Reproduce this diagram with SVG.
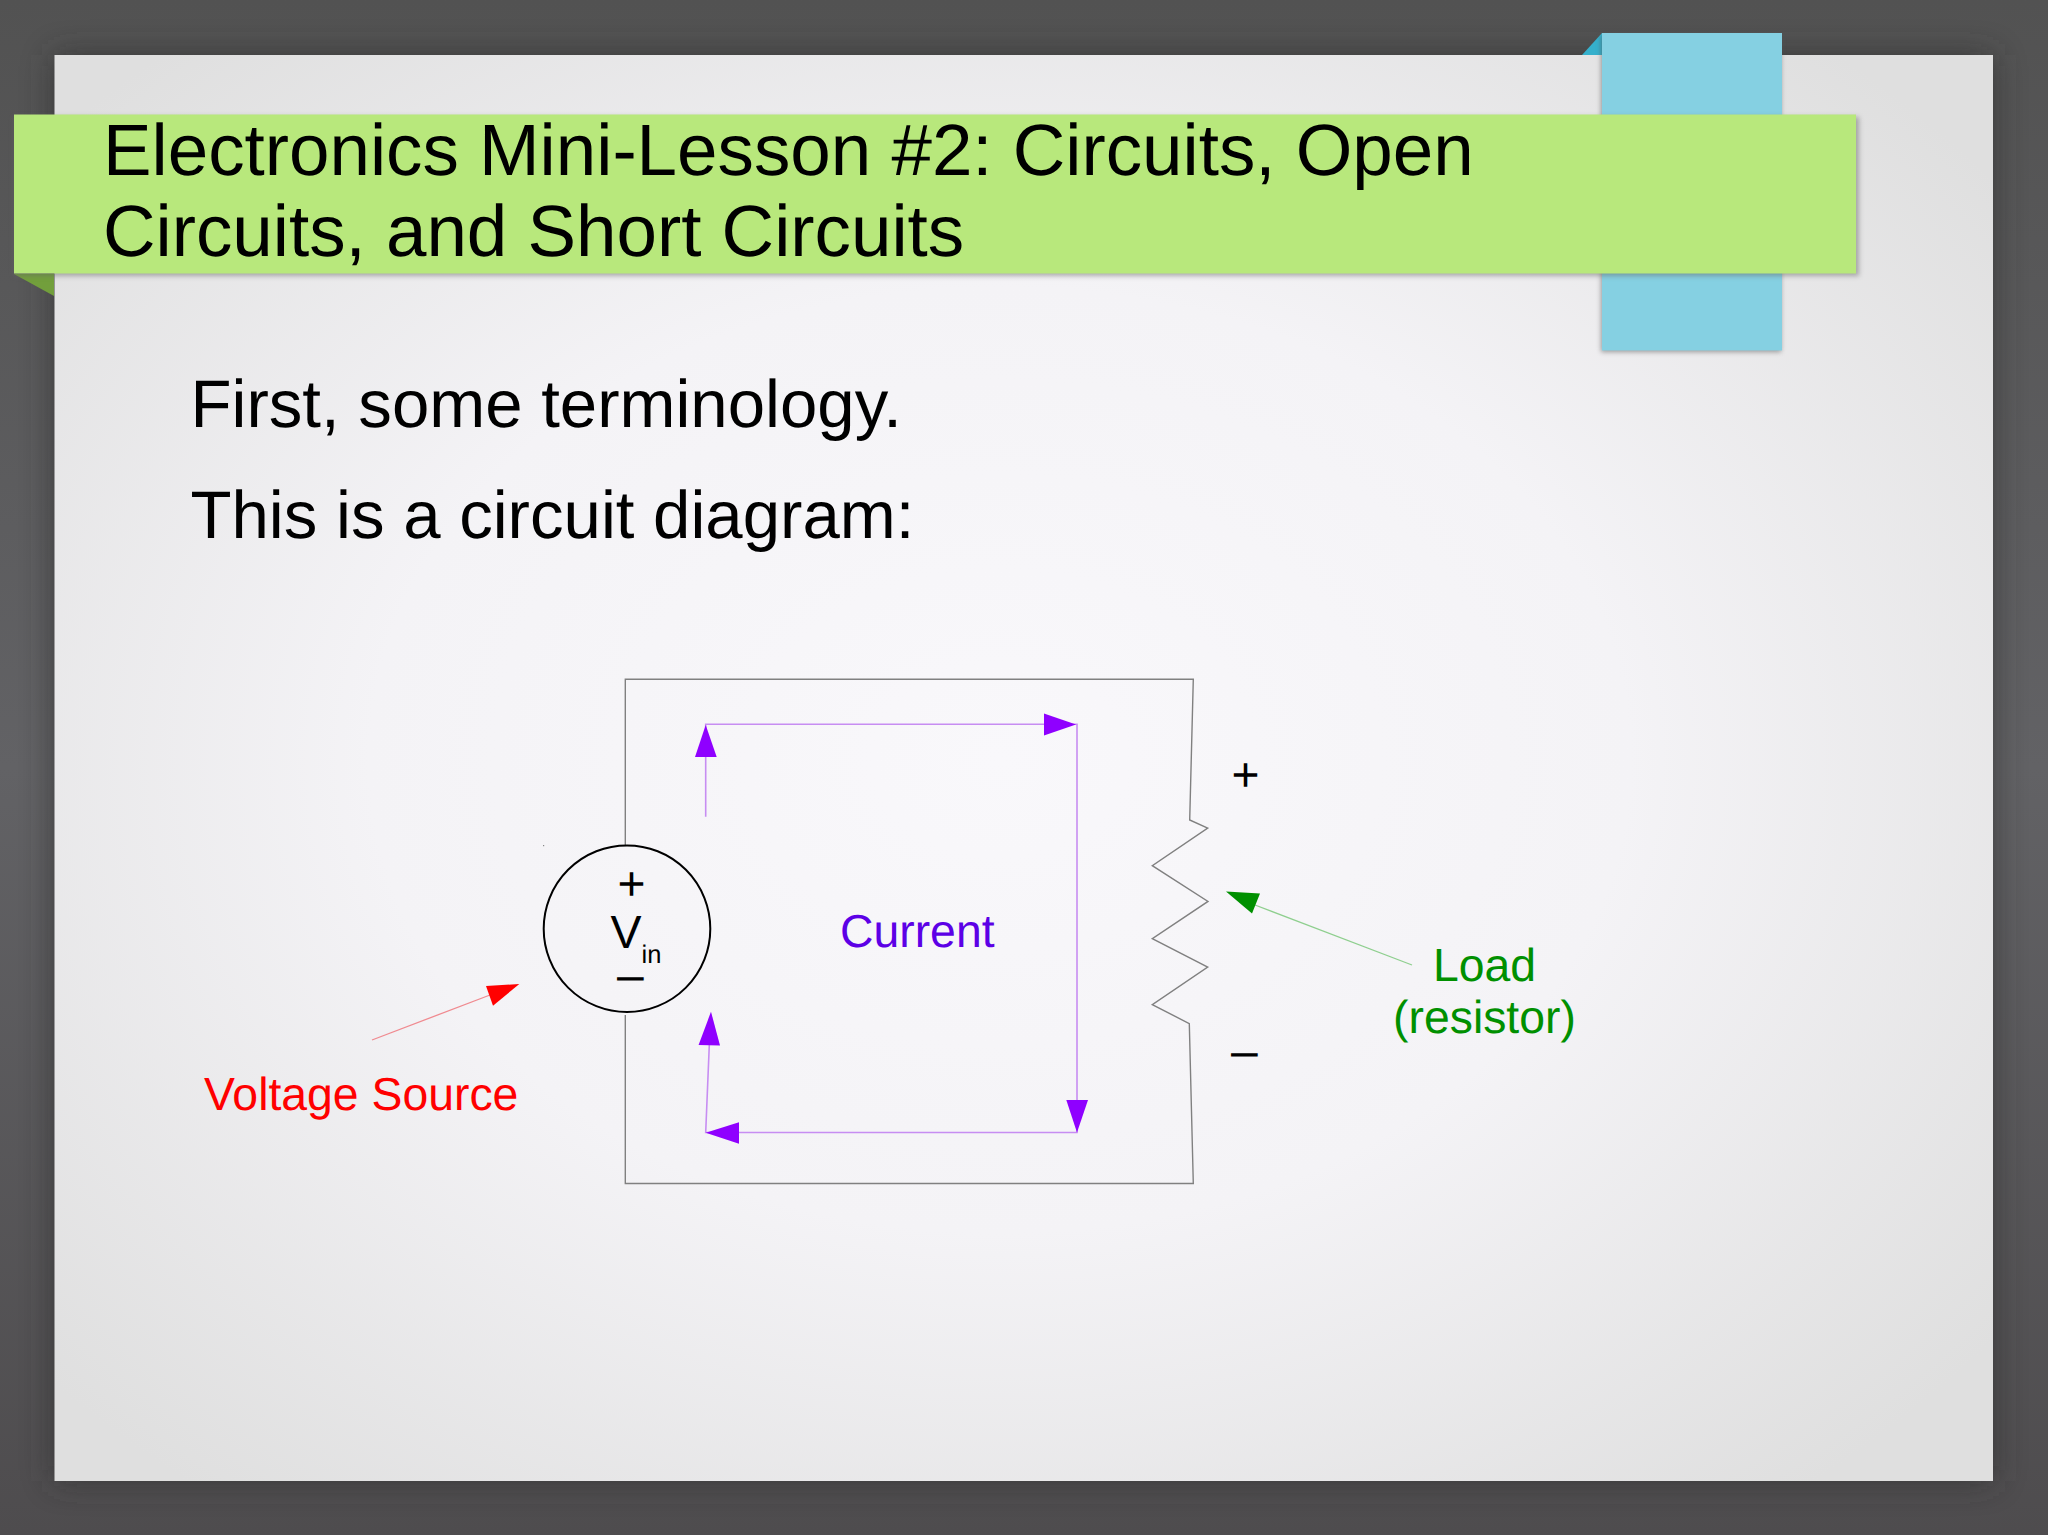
<svg xmlns="http://www.w3.org/2000/svg" width="2048" height="1535" viewBox="0 0 2048 1535">
<style>
text{font-family:"Liberation Sans",Arial,sans-serif;text-rendering:geometricPrecision}
.title{font-size:72.75px;fill:#000}
.body{font-size:67.15px;fill:#000}
.lbl{font-size:46.35px}
.sym{font-size:48px;fill:#000}
.wire{fill:none;stroke:#808080;stroke-width:1.4}
.cur{fill:none;stroke:#c78df2;stroke-width:1.6}
.head{fill:#8f00ff}
</style>
<defs>
<linearGradient id="bg" x1="0" y1="0" x2="0" y2="1"><stop offset="0" stop-color="#525252"/><stop offset=".5" stop-color="#626265"/><stop offset="1" stop-color="#4e4c4e"/></linearGradient>
<radialGradient id="panel" gradientUnits="userSpaceOnUse" cx="1000" cy="760" r="1260" gradientTransform="translate(0 190) scale(1 .75)"><stop offset="0" stop-color="#f9f8fb"/><stop offset=".5" stop-color="#f4f3f6"/><stop offset="1" stop-color="#dfdfdf"/></radialGradient>
<filter id="sh" x="-10%" y="-10%" width="120%" height="120%"><feGaussianBlur stdDeviation="16"/></filter>
<filter id="sm" x="-5%" y="-10%" width="110%" height="120%"><feGaussianBlur stdDeviation="2.500"/></filter>
</defs>
<g id="background">
<rect width="2048" height="1535" fill="url(#bg)"/>
<rect x="54" y="55" width="1939" height="1426" fill="#2e2e2e" opacity=".7" filter="url(#sh)"/>
<rect x="54.5" y="55" width="1938.500" height="1426" fill="url(#panel)"/>
</g>
<g id="ribbons">
<polygon points="1602,33 1582,55 1602,55" fill="#35b0cc"/>
<rect x="1601" y="36" width="180" height="316" fill="#555" opacity=".55" filter="url(#sm)"/>
<rect x="1602" y="33" width="180" height="317.500" fill="#85d0e2"/>
<polygon points="14,274 54,296 54,274" fill="#729f3c"/>
<rect x="14" y="117" width="1845" height="159" fill="#666" opacity=".5" filter="url(#sm)"/>
<rect x="14" y="114.500" width="1842" height="159" fill="#b8e87c"/>
</g>
<g id="title">
<text class="title" x="103" y="175">Electronics Mini-Lesson #2: Circuits, Open</text>
<text class="title" x="103" y="256">Circuits, and Short Circuits</text>
</g>
<g id="body">
<text class="body" x="190.500" y="427">First, some terminology.</text>
<text class="body" x="190.500" y="538">This is a circuit diagram:</text>
</g>
<g id="connectors">
<path class="wire" d="M625.300 845V679.300H1193.300L1189.700 820L1207.700 828.200L1152.300 865.700L1208 901.400L1152.300 938.600L1207.700 967.100L1152.300 1004.600L1189.300 1023.600L1193.300 1183.500H625.300V1015"/>
<path class="cur" d="M705.700 816.700V724.300H1077V1132.500H705.700L709.300 1045"/>
<polygon class="head" points="705.700,725 695,757 716.700,757"/>
<polygon class="head" points="1076,724.600 1044,713.600 1044,735.400"/>
<polygon class="head" points="1077,1132.500 1066.300,1100 1088,1100"/>
<polygon class="head" points="705.700,1132.700 739,1122.300 739,1143.700"/>
<polygon class="head" points="711,1011.700 698.600,1045 720,1045.600"/>
<line x1="372" y1="1040" x2="490" y2="995" stroke="#f08a90" stroke-width="1.300"/>
<polygon points="519.300,984 486,986 493,1005.700" fill="#ff0000"/>
<line x1="1412" y1="965" x2="1255" y2="905" stroke="#8fcf8f" stroke-width="1.300"/>
<polygon points="1226,891.400 1260,893.600 1252,913.600" fill="#009000"/>
</g>
<g id="voltage-source">
<circle cx="627" cy="928.700" r="83.300" fill="none" stroke="#000" stroke-width="2"/>
<text class="sym" x="617.500" y="900">+</text>
<text x="610.500" y="948" font-size="46.500" fill="#000">V</text>
<text x="641.500" y="963" font-size="25.500" fill="#000">in</text>
<text class="sym" x="617" y="991">–</text>
<rect x="543" y="845" width="1.200" height="1.200" fill="#888"/>
</g>
<g id="resistor-polarity">
<text class="sym" x="1231.500" y="791">+</text>
<text class="sym" x="1231" y="1067">–</text>
</g>
<g id="label-voltage-source"><text class="lbl" x="204" y="1110" fill="#ff0000">Voltage Source</text></g>
<g id="label-current"><text class="lbl" x="840" y="947" fill="#5c00e6">Current</text></g>
<g id="label-load">
<text class="lbl" x="1484.500" y="981" fill="#009000" text-anchor="middle">Load</text>
<text class="lbl" x="1484.500" y="1033" fill="#009000" text-anchor="middle">(resistor)</text>
</g>
</svg>
